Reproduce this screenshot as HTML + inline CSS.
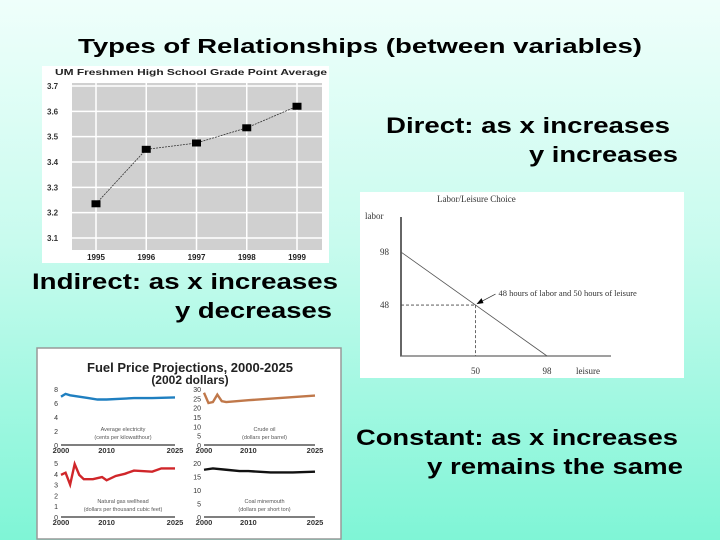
<!DOCTYPE html>
<html><head><meta charset="utf-8"><style>
html,body{margin:0;padding:0;width:720px;height:540px;overflow:hidden}
body{background:linear-gradient(#effffb 0%,#c8fbee 45%,#7ff5d6 100%);font-family:"Liberation Sans",sans-serif}
svg{display:block}
.big{font-family:"Liberation Sans",sans-serif;font-weight:bold;font-size:22px;fill:#000}
</style></head><body>
<svg width="720" height="540" viewBox="0 0 720 540">
<text x="78" y="53" textLength="564" lengthAdjust="spacingAndGlyphs" style="font-family:'Liberation Sans Narrow','Liberation Sans',sans-serif;font-weight:bold;font-size:20px">Types of Relationships (between variables)</text>
<text class="big" x="386" y="133" textLength="284" lengthAdjust="spacingAndGlyphs">Direct: as x increases</text>
<text class="big" x="529" y="162" textLength="149" lengthAdjust="spacingAndGlyphs">y increases</text>
<text class="big" x="32" y="289" textLength="306" lengthAdjust="spacingAndGlyphs">Indirect: as x increases</text>
<text class="big" x="175" y="318" textLength="157" lengthAdjust="spacingAndGlyphs">y decreases</text>
<text class="big" x="356" y="445" textLength="322" lengthAdjust="spacingAndGlyphs">Constant: as x increases</text>
<text class="big" x="427" y="474" textLength="256" lengthAdjust="spacingAndGlyphs">y remains the same</text>

<g id="gpa">
<rect x="42" y="66" width="287" height="197" fill="#fff"/>
<rect x="72" y="83" width="250" height="167" fill="#d0d0d0"/>
<text x="55" y="75" font-size="8.5" font-weight="bold" fill="#222" textLength="272" lengthAdjust="spacingAndGlyphs">UM Freshmen High School Grade Point Average</text>
</g>

<g id="labor">
<rect x="360" y="192" width="324" height="186" fill="#fff"/>
<text x="437" y="202" font-family="Liberation Serif,serif" font-size="9" fill="#333">Labor/Leisure Choice</text>
<text x="365" y="219" font-family="Liberation Serif,serif" font-size="9" fill="#333">labor</text>
<text x="576" y="374" font-family="Liberation Serif,serif" font-size="9" fill="#333">leisure</text>
<line x1="401" y1="217" x2="401" y2="356" stroke="#666" stroke-width="2"/>
<line x1="400" y1="356" x2="611" y2="356" stroke="#666" stroke-width="1.2"/>
</g>

<g id="fuel">
<rect x="37" y="348" width="304" height="191" fill="#fff" stroke="#999" stroke-width="1.5"/>
<text x="190" y="372" text-anchor="middle" font-size="13" font-weight="bold" fill="#222">Fuel Price Projections, 2000-2025</text>
<text x="190" y="384" text-anchor="middle" font-size="12" font-weight="bold" fill="#222">(2002 dollars)</text>
</g>
</svg>
<script>
// GPA chart data
const gpaYears = [1995, 1996, 1997, 1998, 1999];
const gpaValues = [3.235, 3.45, 3.475, 3.535, 3.62];
const gpaTicks = [3.1, 3.2, 3.3, 3.4, 3.5, 3.6, 3.7];

// Labor/leisure data
const laborTicks = [98, 48];
const leisureTicks = [50, 98];
const laborLine = [[0, 98], [98, 0]];
const laborPoint = [50, 48];

// Fuel data
const elecYears = [2000, 2001, 2002, 2004, 2006, 2008, 2010, 2013, 2016, 2020, 2025];
const elecValues = [6.9, 7.3, 7.1, 6.9, 6.7, 6.5, 6.5, 6.6, 6.7, 6.7, 6.8];
const oilYears = [2000, 2001, 2002, 2003, 2004, 2005, 2010, 2025];
const oilValues = [28, 22.5, 23, 27, 23.5, 23, 24, 26.5];
const gasYears = [2000, 2001, 2002, 2003, 2004, 2005, 2007, 2009, 2010, 2012, 2014, 2016, 2020, 2022, 2025];
const gasValues = [3.9, 4.1, 3.0, 4.9, 3.9, 3.5, 3.5, 3.7, 3.4, 3.8, 4.0, 4.3, 4.2, 4.5, 4.5];
const coalYears = [2000, 2002, 2005, 2008, 2010, 2015, 2020, 2025];
const coalValues = [17.5, 18, 17.5, 17, 17, 16.5, 16.5, 16.8];
const elecTicks = [0, 2, 4, 6, 8];
const oilTicks = [0, 5, 10, 15, 20, 25, 30];
const gasTicks = [0, 1, 2, 3, 4, 5];
const coalTicks = [0, 5, 10, 15, 20];
const fuelXTicks = [2000, 2010, 2025];

const NS = 'http://www.w3.org/2000/svg';
function mk(parent, tag, attrs, text) {
  const e = document.createElementNS(NS, tag);
  for (const k in attrs) e.setAttribute(k, attrs[k]);
  if (text !== undefined) e.textContent = text;
  parent.appendChild(e);
  return e;
}

// ---- GPA
(function () {
  const g = document.getElementById('gpa');
  const x = yr => 96 + (yr - 1995) * 50.25;
  const y = v => 86 + (3.7 - v) * 253.3;
  gpaTicks.forEach(t => {
    const l = mk(g, 'line', { x1: 72, x2: 322, y1: y(t), y2: y(t), stroke: '#fff', 'stroke-width': 1.5 });
    
    
    const tx = mk(g, 'text', { x: 47, y: y(t) + 3, 'font-size': 8, 'font-weight': 'bold', fill: '#333' }, t.toFixed(1));
    
    
  });
  gpaYears.forEach(yr => {
    const l = mk(g, 'line', { x1: x(yr), x2: x(yr), y1: 83, y2: 250, stroke: '#fff', 'stroke-width': 1.5 });
    
    
    const tx = mk(g, 'text', { x: x(yr), y: 260, 'text-anchor': 'middle', 'font-size': 8, 'font-weight': 'bold', fill: '#222' }, String(yr));
    
    
  });
  const pts = gpaYears.map((yr, i) => x(yr) + ',' + y(gpaValues[i])).join(' ');
  const pl = mk(g, 'polyline', { points: pts, fill: 'none', stroke: '#333', 'stroke-width': 0.8, 'stroke-dasharray': '2,1' });
  
  
  gpaYears.forEach((yr, i) => {
    const r = mk(g, 'rect', { x: x(yr) - 4.5, y: y(gpaValues[i]) - 3.5, width: 9, height: 7, fill: '#000' });
    
    
  });
})();

// ---- Labor/leisure
(function () {
  const g = document.getElementById('labor');
  const x = v => 401 + v * 1.49;
  const y = v => 356 - v * 1.061;
  laborTicks.forEach(t => {
    const tx = mk(g, 'text', { x: 380, y: y(t) + 3, 'font-family': 'Liberation Serif,serif', 'font-size': 9, fill: '#333' }, String(t));
    
    
  });
  leisureTicks.forEach(t => {
    const tx = mk(g, 'text', { x: x(t), y: 374, 'text-anchor': 'middle', 'font-family': 'Liberation Serif,serif', 'font-size': 9, fill: '#333' }, String(t));
    
    
  });
  const ln = mk(g, 'line', { x1: x(laborLine[0][0]), y1: y(laborLine[0][1]), x2: x(laborLine[1][0]), y2: y(laborLine[1][1]), stroke: '#555', 'stroke-width': 0.8 });
  
  
  const px = x(laborPoint[0]), py = y(laborPoint[1]);
  const d1 = mk(g, 'line', { x1: 401, y1: py, x2: px, y2: py, stroke: '#444', 'stroke-width': 0.8, 'stroke-dasharray': '3,2' });
  
  
  const d2 = mk(g, 'line', { x1: px, y1: py, x2: px, y2: 356, stroke: '#444', 'stroke-width': 0.8, 'stroke-dasharray': '3,2' });
  
  
  const ar = mk(g, 'line', { x1: px + 3, y1: py - 2, x2: px + 20, y2: py - 11, stroke: '#333', 'stroke-width': 0.8 });
  
  
  const hd = mk(g, 'polygon', { points: `${px + 1},${py - 1} ${px + 6},${py - 7} ${px + 8},${py - 2}`, fill: '#000' });
  
  
  const an = mk(g, 'text', { x: px + 23, y: py - 9, 'font-family': 'Liberation Serif,serif', 'font-size': 8.5, fill: '#333' }, '48 hours of labor and 50 hours of leisure');
  
  
})();

// ---- Fuel panels
(function () {
  const g = document.getElementById('fuel');
  function panel(name, x0, x1, yTop, y0, ticks, years, values, color, l1, l2, xlabY) {
    const max = ticks[ticks.length - 1];
    const x = yr => x0 + (yr - 2000) / 25 * (x1 - x0);
    const y = v => y0 - v / max * (y0 - yTop);
    const ax = mk(g, 'line', { x1: x0, y1: y0, x2: x1, y2: y0, stroke: '#333', 'stroke-width': 1.2 });
    
    
    ticks.forEach(t => {
      const tx = mk(g, 'text', { x: x0 - 3, y: y(t) + 3, 'text-anchor': 'end', 'font-size': 7, fill: '#333' }, String(t));
      
      
    });
    fuelXTicks.forEach(t => {
      const tx = mk(g, 'text', { x: x(t), y: xlabY, 'text-anchor': 'middle', 'font-size': 7.5, 'font-weight': 'bold', fill: '#333' }, String(t));
      
      
    });
    const pts = years.map((yr, i) => x(yr) + ',' + y(values[i])).join(' ');
    const pl = mk(g, 'polyline', { points: pts, fill: 'none', stroke: color, 'stroke-width': 2.4 });
    
    
    const a = mk(g, 'text', { x: (x0 + x1) / 2 + 5, y: y0 - 14, 'text-anchor': 'middle', 'font-size': 5.5, fill: '#555' }, l1);
    
    
    const b = mk(g, 'text', { x: (x0 + x1) / 2 + 5, y: y0 - 6, 'text-anchor': 'middle', 'font-size': 5.5, fill: '#555' }, l2);
    
    
  }
  panel('electricity', 61, 175, 389, 445, elecTicks, elecYears, elecValues, '#1f7fc0', 'Average electricity', '(cents per kilowatthour)', 453);
  panel('crude-oil', 204, 315, 389, 445, oilTicks, oilYears, oilValues, '#c0784a', 'Crude oil', '(dollars per barrel)', 453);
  panel('natural-gas', 61, 175, 463, 517, gasTicks, gasYears, gasValues, '#d0262a', 'Natural gas wellhead', '(dollars per thousand cubic feet)', 525);
  panel('coal', 204, 315, 463, 517, coalTicks, coalYears, coalValues, '#111', 'Coal minemouth', '(dollars per short ton)', 525);
})();
</script>
</body></html>
